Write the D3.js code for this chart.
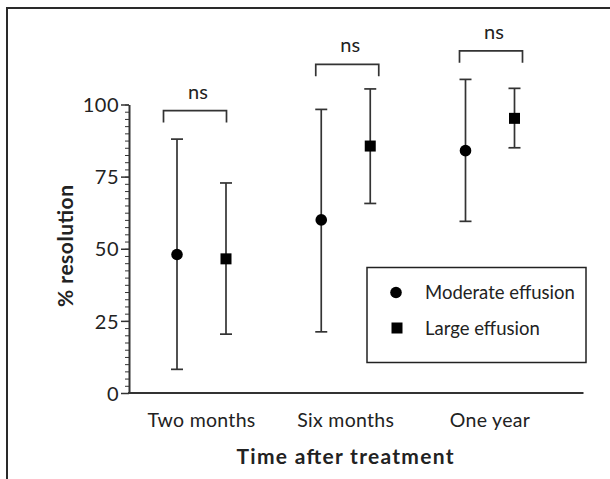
<!DOCTYPE html>
<html>
<head>
<meta charset="utf-8">
<script src="https://cdn.jsdelivr.net/npm/d3@7"></script>
<style>
  body { margin: 0; background: #fff; }
  text { font-family: Lato, "Open Sans", sans-serif; fill: #222; }
</style>
</head>
<body>
<div id="chart"></div>
<script>
// values
var categories = ['Two months', 'Six months', 'One year']
var moderateMean = [48, 60, 84]
var moderateLow = [8.2, 21.2, 59.5]
var moderateHigh = [88, 98.3, 108.7]
var largeMean = [46.5, 85.6, 95.2]
var largeLow = [20.4, 65.7, 85]
var largeHigh = [72.8, 105.4, 105.6]
var bracketLevel = [97.9, 113.9, 118.6]
var bracketText = ['ns', 'ns', 'ns']
var seriesNames = ['Moderate effusion', 'Large effusion']
var majorTicks = [0, 25, 50, 75, 100]

var w = 610, h = 479

var svg = d3.select('#chart').append('svg')
  .attr('width', w)
  .attr('height', h)

// page frame (top + left only)
svg.append('path')
  .attr('d', 'M7,479 V8 H610')
  .attr('fill', 'none')
  .attr('stroke', '#2a2a2a')
  .attr('stroke-width', 2)

var y = d3.scaleLinear().domain([0, 100]).range([393, 104.5])
var x = d3.scalePoint().domain(categories).range([201.5, 490])
var off = 24.5

var axisColor = '#333'

// minor ticks
var minor = svg.append('g')
  .attr('transform', 'translate(129,0)')
  .call(d3.axisLeft(y).tickValues(d3.range(0, 100.01, 2.5)).tickSize(4).tickFormat(''))
minor.select('.domain').remove()
minor.selectAll('line').attr('stroke', axisColor).attr('stroke-width', 1)

var yAxis = svg.append('g')
  .attr('transform', 'translate(129,0)')
  .call(d3.axisLeft(y).tickValues(majorTicks).tickSize(8).tickSizeOuter(0).tickPadding(2))
yAxis.select('.domain').attr('stroke', axisColor).attr('stroke-width', 2)
yAxis.selectAll('line').attr('stroke', axisColor).attr('stroke-width', 1.5)
yAxis.selectAll('text')
  .style('font-family', 'Lato, sans-serif')
  .style('font-size', '20px')
  .style('letter-spacing', '0.5px')
  .attr('fill', '#222')
  .attr('dy', '0.36em')

// x axis line
svg.append('line')
  .attr('x1', 128).attr('x2', 583.5)
  .attr('y1', y(0)).attr('y2', y(0))
  .attr('stroke', axisColor)
  .attr('stroke-width', 2)

svg.selectAll('.cat')
  .data(categories)
  .enter().append('text')
  .attr('class', 'cat')
  .attr('x', function(d) { return x(d) })
  .attr('y', 427)
  .attr('text-anchor', 'middle')
  .style('font-size', '19.5px')
  .style('letter-spacing', '0.3px')
  .text(function(d) { return d })

svg.append('text')
  .attr('x', 345)
  .attr('y', 464)
  .attr('text-anchor', 'middle')
  .style('font-size', '21px')
  .style('font-weight', 'bold')
  .attr('textLength', 217)
  .text('Time after treatment')

svg.append('text')
  .attr('transform', 'translate(73,246) rotate(-90)')
  .attr('text-anchor', 'middle')
  .style('font-size', '21px')
  .style('font-weight', 'bold')
  .attr('textLength', 122)
  .text('% resolution')

// error bars
function errorBars(mean, low, high, dx, shape) {
  var g = svg.append('g')
  var rows = categories.map(function(c, i) {
    return { cx: x(c) + dx, m: mean[i], lo: low[i], hi: high[i] }
  })
  var bars = g.selectAll('.bar').data(rows).enter().append('g')
  bars.append('line')
    .attr('x1', function(d) { return d.cx }).attr('x2', function(d) { return d.cx })
    .attr('y1', function(d) { return y(d.lo) }).attr('y2', function(d) { return y(d.hi) })
  bars.append('line')
    .attr('x1', function(d) { return d.cx - 6 }).attr('x2', function(d) { return d.cx + 6 })
    .attr('y1', function(d) { return y(d.lo) }).attr('y2', function(d) { return y(d.lo) })
  bars.append('line')
    .attr('x1', function(d) { return d.cx - 6 }).attr('x2', function(d) { return d.cx + 6 })
    .attr('y1', function(d) { return y(d.hi) }).attr('y2', function(d) { return y(d.hi) })
  bars.selectAll('line').attr('stroke', '#333').attr('stroke-width', 1.7)
  if (shape == 'circle') {
    bars.append('circle')
      .attr('cx', function(d) { return d.cx })
      .attr('cy', function(d) { return y(d.m) })
      .attr('r', 5.8)
      .attr('fill', '#000')
  } else {
    bars.append('rect')
      .attr('x', function(d) { return d.cx - 5.5 })
      .attr('y', function(d) { return y(d.m) - 5.5 })
      .attr('width', 11).attr('height', 11)
      .attr('fill', '#000')
  }
}
errorBars(moderateMean, moderateLow, moderateHigh, -off, 'circle')
errorBars(largeMean, largeLow, largeHigh, off, 'square')

// significance brackets
var bracketShift = [-6.5, 1.5, 1]
var legDrop = 4.1
categories.forEach(function(c, i) {
  var cx = x(c) + bracketShift[i]
  var x0 = cx - 31.5, x1 = cx + 31.5
  var yb = y(bracketLevel[i]), yl = y(bracketLevel[i] - legDrop)
  svg.append('path')
    .attr('d', 'M' + x0 + ',' + yl + 'V' + yb + 'H' + x1 + 'V' + yl)
    .attr('fill', 'none')
    .attr('stroke', '#333')
    .attr('stroke-width', 1.7)
  svg.append('text')
    .attr('x', cx + 3)
    .attr('y', yb - 12)
    .attr('text-anchor', 'middle')
    .style('font-size', '20px')
    .text(bracketText[i])
})

// legend
var legend = svg.append('g').attr('transform', 'translate(367,267.5)')
legend.append('rect')
  .attr('width', 219).attr('height', 95)
  .attr('fill', '#fff')
  .attr('stroke', '#222')
  .attr('stroke-width', 1.5)
legend.append('circle').attr('cx', 29).attr('cy', 25).attr('r', 5.8).attr('fill', '#000')
legend.append('rect').attr('x', 24.5).attr('y', 55).attr('width', 11).attr('height', 11).attr('fill', '#000')
legend.selectAll('.lt')
  .data(seriesNames)
  .enter().append('text')
  .attr('class', 'lt')
  .attr('x', 58)
  .attr('y', function(d, i) { return 31 + i * 36.5 })
  .style('font-size', '18.5px')
  .text(function(d) { return d })
</script>
</body>
</html>
